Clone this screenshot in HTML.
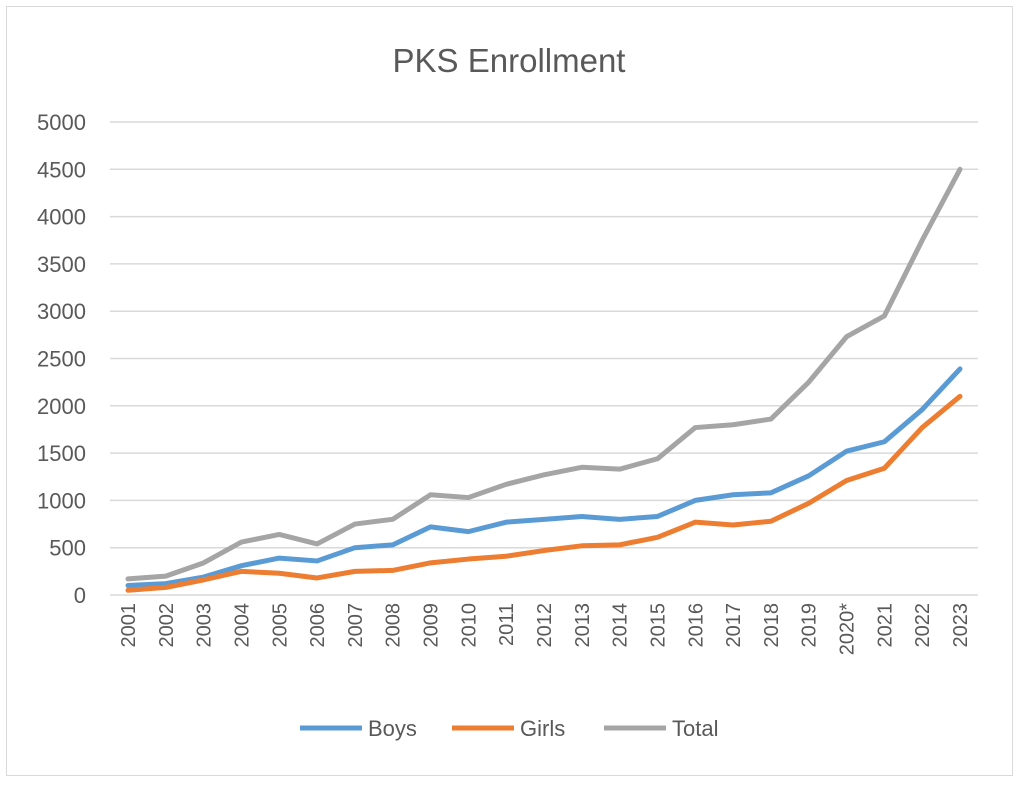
<!DOCTYPE html>
<html><head><meta charset="utf-8"><style>
body{margin:0;background:#fff;}
svg text{font-family:"Liberation Sans",sans-serif;fill:#595959;}
</style></head><body>
<svg width="1019" height="786" viewBox="0 0 1019 786">
<rect x="6.5" y="6.5" width="1006" height="769" fill="#fff" stroke="#d9d9d9"/>
<text x="509" y="72" font-size="33" text-anchor="middle">PKS Enrollment</text>
<g id="grid" stroke="#d9d9d9" stroke-width="1.5"></g>
<g id="ylab" font-size="22" text-anchor="end"></g>
<g id="xlab" font-size="20"></g>
<g id="lines" fill="none" stroke-width="5" stroke-linejoin="round" stroke-linecap="round"></g>
<g font-size="22">
<line x1="300" y1="728" x2="362" y2="728" stroke="#5b9bd5" stroke-width="5"/>
<text x="368" y="736">Boys</text>
<line x1="452" y1="728" x2="514" y2="728" stroke="#ed7d31" stroke-width="5"/>
<text x="520" y="736">Girls</text>
<line x1="604" y1="728" x2="666" y2="728" stroke="#a5a5a5" stroke-width="5"/>
<text x="672" y="736">Total</text>
</g>
</svg>
<script>
const ns="http://www.w3.org/2000/svg";
function el(p,t,a,txt){const e=document.createElementNS(ns,t);for(const k in a)e.setAttribute(k,a[k]);if(txt)e.textContent=txt;document.getElementById(p).appendChild(e);}
const y0=595,y5=122,x0=128,dx=(960-128)/22;
const Y=v=>y0-(y0-y5)*v/5000;
for(let v=0;v<=5000;v+=500){el('grid','line',{x1:110,x2:978,y1:Y(v),y2:Y(v)});el('ylab','text',{x:86,y:Y(v)+8},String(v));}
for(let i=0;i<23;i++){const yr=i==19?'2020*':String(2001+i);const x=x0+i*dx+7;el('xlab','text',{x:x,y:603,'text-anchor':'end',transform:`rotate(-90 ${x} 603)`},yr);}
const T=[170,200,340,560,640,540,750,800,1060,1030,1170,1270,1350,1330,1440,1770,1800,1860,2250,2730,2950,3750,4500];
const B=[100,120,190,310,390,360,500,530,720,670,770,800,830,800,830,1000,1060,1080,1260,1520,1620,1960,2390];
const G=[50,80,160,250,230,180,250,260,340,380,410,470,520,530,610,770,740,780,970,1210,1340,1770,2100];
[[T,'#a5a5a5'],[B,'#5b9bd5'],[G,'#ed7d31']].forEach(([d,c])=>el('lines','polyline',{stroke:c,points:d.map((v,i)=>(x0+i*dx)+','+Y(v)).join(' ')}));
</script>
</body></html>
